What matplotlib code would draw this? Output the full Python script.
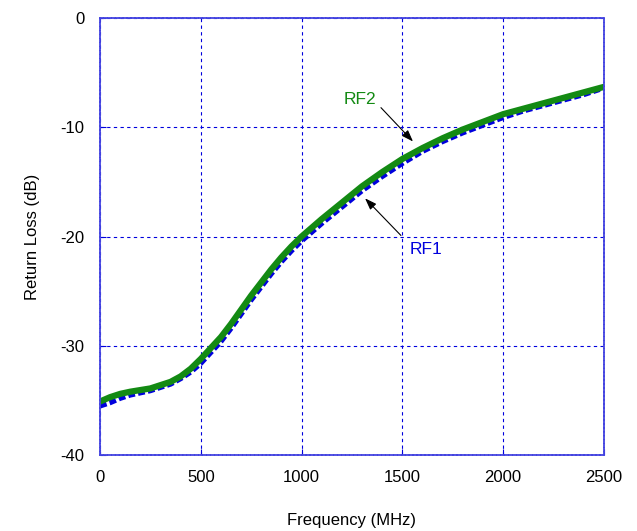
import matplotlib.pyplot as plt
import numpy as np

plt.rcParams["font.family"] = ["Liberation Sans", "DejaVu Sans"]
plt.rcParams["axes.unicode_minus"] = False

freq = [0, 50, 100, 150, 200, 250, 300, 350, 400, 450, 500, 550, 600, 650, 700,
        750, 800, 850, 900, 950, 1000, 1100, 1200, 1300, 1400, 1500, 1600, 1700,
        1800, 1900, 2000, 2100, 2200, 2300, 2400, 2500]
rf2 = [-35.1, -34.7, -34.4, -34.2, -34.05, -33.9, -33.6, -33.3, -32.8, -32.1,
       -31.2, -30.2, -29.2, -28.0, -26.7, -25.4, -24.2, -23.0, -21.9, -20.9,
       -20.0, -18.4, -16.9, -15.4, -14.1, -12.9, -11.9, -11.0, -10.2, -9.5,
       -8.8, -8.3, -7.8, -7.3, -6.8, -6.3]
rf1 = [-35.5, -35.2, -34.8, -34.5, -34.3, -34.1, -33.8, -33.5, -33.0, -32.4,
       -31.6, -30.6, -29.6, -28.4, -27.1, -25.8, -24.6, -23.4, -22.3, -21.3,
       -20.4, -18.8, -17.3, -15.8, -14.5, -13.3, -12.2, -11.3, -10.5, -9.8,
       -9.1, -8.5, -8.0, -7.5, -7.0, -6.4]

blue = "#0000dd"
green = "#138a13"

fig = plt.figure(figsize=(6.37, 5.31), dpi=100)
ax = fig.add_axes([0.157, 0.143, 0.791, 0.823])

ax.plot(freq, rf1, color=blue, linewidth=3.8, linestyle=(0, (1.3, 0.6)))
ax.plot(freq, rf2, color=green, linewidth=4.5, solid_capstyle="round")

ax.set_xlim(0, 2500)
ax.set_ylim(-40, 0)
ax.set_xticks(np.arange(0, 2501, 500))
ax.set_yticks(np.arange(-40, 1, 10))
ax.grid(True, color=blue, linestyle=(0, (3, 3)), linewidth=0.8)
for s in ax.spines.values():
    s.set_color("#4444e0")
    s.set_linewidth(1.3)
    s.set_linestyle((0, (1.5, 0.7)))
ax.tick_params(direction="in", color=blue, length=4, labelsize=12, pad=11)

ax.set_xlabel("Frequency (MHz)", fontsize=12, labelpad=20)
ax.set_ylabel("Return Loss (dB)", fontsize=12, labelpad=15)

arrow = dict(arrowstyle="-|>,head_length=0.7,head_width=0.25", color="black",
             lw=0.8, shrinkA=0, shrinkB=0)
ax.text(1290, -7.5, "RF2", color=green, fontsize=12.5, ha="center", va="center")
ax.annotate("", xy=(1553, -11.3), xytext=(1394, -8.2), arrowprops=arrow)
ax.text(1617, -21.2, "RF1", color=blue, fontsize=12.5, ha="center", va="center")
ax.annotate("", xy=(1315, -16.5), xytext=(1493, -19.9), arrowprops=arrow)

fig.savefig("out.png", dpi=100)
